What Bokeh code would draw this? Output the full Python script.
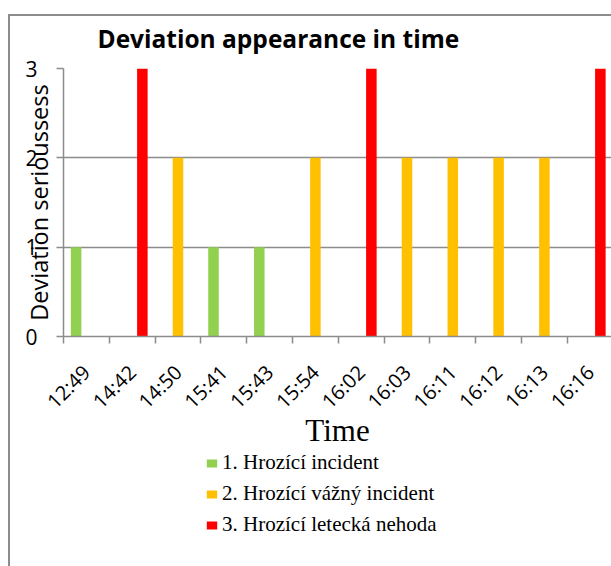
import numpy as np
from bokeh.plotting import figure
from bokeh.layouts import column
from bokeh.models import Range1d, FixedTicker, Legend, LegendItem, Label
from bokeh.embed import file_html
from bokeh.resources import INLINE

# ---- data ----
times = ["12:49", "14:42", "14:50", "15:41", "15:43", "15:54",
         "16:02", "16:03", "16:11", "16:12", "16:13", "16:16"]
incident = [1, 0, 0, 1, 1, 0, 0, 0, 0, 0, 0, 0]
serious_incident = [0, 0, 2, 0, 0, 2, 0, 2, 2, 2, 2, 0]
accident = [0, 3, 0, 0, 0, 0, 3, 0, 0, 0, 0, 3]
series_names = ["1. Hrozící incident", "2. Hrozící vážný incident", "3. Hrozící letecká nehoda"]
series_colors = ["#92D050", "#FFC000", "#FF0000"]
y_ticks = [0, 1, 2, 3]
series_values = [incident, serious_incident, accident]

GRAY = "#8c8c8c"

centers = np.arange(len(times)) + 0.5
boundaries = list(range(len(times) + 1))


def blank(height):
    f = figure(frame_width=548, height=height, output_backend="svg", toolbar_location=None,
               title=None, x_range=Range1d(0, 1), y_range=Range1d(0, 1),
               x_axis_location=None, y_axis_location=None,
               min_border_left=53, min_border_right=0, min_border_top=0, min_border_bottom=0)
    f.outline_line_color = None
    f.grid.visible = False
    f.background_fill_color = "white"
    f.border_fill_color = "white"
    return f


# ---------------- title strip ----------------
p0 = blank(42)
p0.add_layout(Label(x=34, y=20, x_units="screen", y_units="screen",
                    text="Deviation appearance in time", text_align="left",
                    text_baseline="alphabetic", text_font="Open Sans",
                    text_font_size="24.5px", text_font_style="bold", text_color="black"))

# ---------------- main chart ----------------
p = figure(frame_width=548, frame_height=268, output_backend="svg", toolbar_location=None,
           title=None, x_range=Range1d(0, 11.965), y_range=Range1d(0, 3),
           min_border_left=53, min_border_right=0, min_border_top=10,
           min_border_bottom=116)
p.outline_line_color = None
p.background_fill_color = "white"
p.border_fill_color = "white"

offsets = [-0.225, 0.0, 0.222]
for vals, off, color in zip(series_values, offsets, series_colors):
    p.vbar(x=centers + off, top=vals, bottom=0, width=0.23,
           fill_color=color, line_color=None)

p.xgrid.visible = False
p.ygrid.ticker = FixedTicker(ticks=y_ticks)
p.ygrid.grid_line_color = GRAY
p.ygrid.grid_line_width = 1.5

ya = p.yaxis[0]
ya.ticker = FixedTicker(ticks=y_ticks)
ya.axis_line_color = GRAY
ya.axis_line_width = 1.5
ya.major_tick_line_color = GRAY
ya.major_tick_line_width = 1.5
ya.major_tick_out = 7
ya.major_tick_in = 0
ya.minor_tick_line_color = None
ya.major_label_standoff = 19
ya.major_label_text_font = "Open Sans"
ya.major_label_text_font_size = "21px"
ya.major_label_text_color = "black"
ya.axis_label = "Deviation serioussess"
ya.axis_label_text_font = "Open Sans"
ya.axis_label_text_font_size = "23.5px"
ya.axis_label_text_font_style = "normal"
ya.axis_label_text_color = "black"
ya.axis_label_standoff = -33

xa = p.xaxis[0]
xa.ticker = FixedTicker(ticks=list(centers), minor_ticks=boundaries)
xa.major_label_overrides = {float(c): t for c, t in zip(centers, times)}
xa.major_label_orientation = np.pi / 4
xa.major_tick_line_color = None
xa.major_tick_out = 0
xa.major_tick_in = 0
xa.minor_tick_line_color = GRAY
xa.minor_tick_line_width = 1.5
xa.minor_tick_out = 7
xa.minor_tick_in = 0
xa.axis_line_color = GRAY
xa.axis_line_width = 1.5
xa.major_label_standoff = 25
xa.major_label_text_font = "Open Sans"
xa.major_label_text_font_size = "20px"
xa.major_label_text_color = "black"
xa.axis_label = "Time"
xa.axis_label_text_font = "Liberation Serif"
xa.axis_label_text_font_size = "31px"
xa.axis_label_text_font_style = "normal"
xa.axis_label_text_color = "black"
xa.axis_label_standoff = -14

# ---------------- legend strip ----------------
p2 = blank(114)
leg_renderers = []
for vals, color in zip(series_values, series_colors):
    r = p2.vbar(x=centers, top=vals, width=0.23, fill_color=color, line_color=None,
                visible=False)
    leg_renderers.append(r)

legend = Legend(items=[LegendItem(label=n, renderers=[r]) for n, r in zip(series_names, leg_renderers)],
                location=(142, 29), orientation="vertical",
                glyph_width=13, glyph_height=10, label_standoff=4,
                label_height=25, spacing=6, padding=0, margin=0,
                label_text_font="Liberation Serif", label_text_font_size="21px",
                label_text_color="black",
                border_line_color=None, background_fill_alpha=0)
p2.add_layout(legend)

layout = column(p0, p, p2, spacing=0)
layout.styles = {"border-top": f"2px solid {GRAY}", "border-left": f"2px solid {GRAY}",
                 "margin-left": "8px", "margin-top": "14px"}

open("out.html", "w").write(file_html(layout, INLINE))
